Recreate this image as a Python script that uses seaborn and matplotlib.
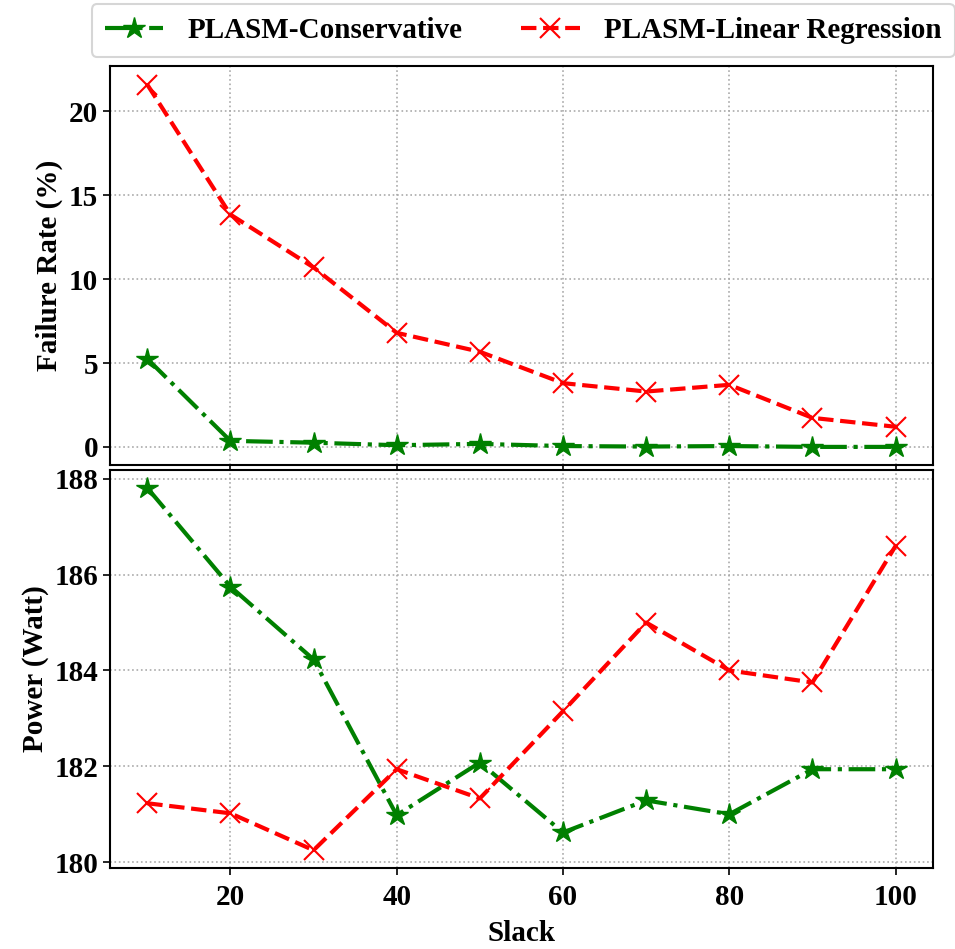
import matplotlib
matplotlib.use("Agg")
import matplotlib.pyplot as plt
import seaborn as sns
import pandas as pd

slack = [10, 20, 30, 40, 50, 60, 70, 80, 90, 100]
fail_cons = [5.25, 0.36, 0.25, 0.1, 0.18, 0.05, 0.02, 0.05, 0.0, 0.0]
fail_lr = [21.6, 13.85, 10.7, 6.8, 5.67, 3.8, 3.3, 3.7, 1.73, 1.2]
power_cons = [187.81, 185.75, 184.23, 180.98, 182.08, 180.62, 181.29, 181.0, 181.94, 181.94]
power_lr = [181.23, 181.02, 180.25, 181.94, 181.33, 183.15, 185.0, 184.0, 183.75, 186.6]
names = ["PLASM-Conservative", "PLASM-Linear Regression"]

sns.set_style("white")
plt.rcParams['font.family'] = ['Liberation Serif', 'DejaVu Serif']
plt.rcParams['font.weight'] = 'bold'
plt.rcParams['axes.labelweight'] = 'bold'
for k in ['text.color', 'axes.labelcolor', 'xtick.color', 'ytick.color']:
    plt.rcParams[k] = 'black'

FS = 21

fig = plt.figure(figsize=(9.55, 9.49), dpi=100)
ax1 = fig.add_axes([0.115, 0.510, 0.862, 0.420])
ax2 = fig.add_axes([0.115, 0.085, 0.862, 0.420], sharex=ax1)

styles = [dict(color="green", marker="*", linestyle="-.", markersize=16, mew=1),
          dict(color="red", marker="x", linestyle="--", markersize=15, mew=1.5)]

for ax, series in [(ax1, [fail_cons, fail_lr]), (ax2, [power_cons, power_lr])]:
    for name, vals, st in zip(names, series, styles):
        df = pd.DataFrame({"Slack": slack, "v": vals})
        sns.lineplot(data=df, x="Slack", y="v", ax=ax, label=name, linewidth=3,
                     color=st["color"], marker=st["marker"], linestyle=st["linestyle"],
                     markersize=st["markersize"], markeredgewidth=st["mew"],
                     markeredgecolor=st["color"])
    ax.grid(True, linestyle=":", color="#aaaaaa", linewidth=1.2)
    for s in ax.spines.values():
        s.set_linewidth(1.5)
        s.set_color("black")
    ax.tick_params(axis="both", labelsize=FS, direction="out", length=5, width=1.2,
                   left=True, bottom=True, colors="black")
    ax.get_legend().remove()

ax1.set_yticks([0, 5, 10, 15, 20])
ax1.set_ylabel("Failure Rate (%)", fontsize=FS, fontweight="bold")
ax1.set_xlabel("")
ax1.tick_params(axis="x", labelbottom=False)
ax2.set_yticks([180, 182, 184, 186, 188])
ax2.set_ylabel("Power (Watt)", fontsize=FS, fontweight="bold")
ax2.set_xlabel("Slack", fontsize=FS, fontweight="bold", labelpad=7)
ax2.set_xticks([20, 40, 60, 80, 100])
ax2.tick_params(axis="x", pad=6)
for lab in ax1.get_yticklabels() + ax2.get_yticklabels() + ax2.get_xticklabels():
    lab.set_fontweight("bold")

handles, labels = ax1.get_legend_handles_labels()
leg = fig.legend(handles, labels, loc="center", bbox_to_anchor=(0.548, 0.968), ncol=2,
                 prop={"size": FS, "weight": "bold"}, frameon=True, fancybox=True,
                 handlelength=2.0, handletextpad=0.85, columnspacing=2.0, borderpad=0.45)
leg.get_frame().set_edgecolor("#cccccc")
leg.get_frame().set_linewidth(1.5)

fig.savefig("out.png", dpi=100)
